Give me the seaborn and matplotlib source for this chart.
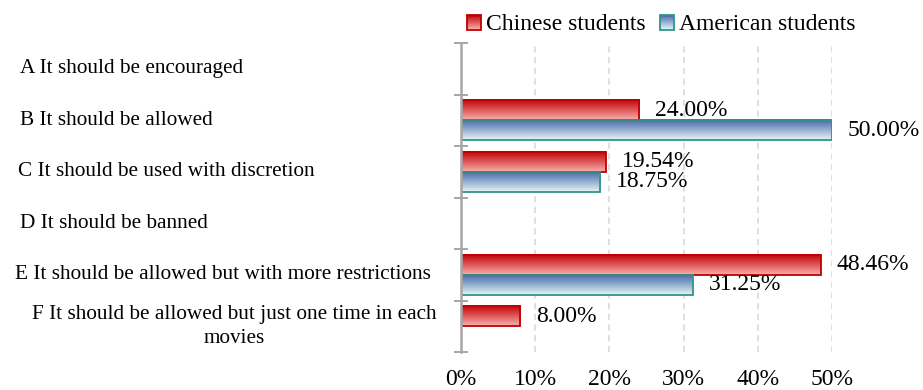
import numpy as np
import pandas as pd
import matplotlib
matplotlib.use("Agg")
import matplotlib.pyplot as plt
import matplotlib.transforms as mtransforms
from matplotlib.patches import Rectangle, Patch
from matplotlib.legend_handler import HandlerBase
from matplotlib.colors import to_rgb
import seaborn as sns

# ---- data -------------------------------------------------------------
categories = [
    "A It should be encouraged",
    "B It should be allowed",
    "C It should be used with discretion",
    "D It should be banned",
    "E It should be allowed but with more restrictions",
    "F It should be allowed but just one time in each\nmovies",
]
groups = ["Chinese students", "American students"]
chinese_pct = [0.0, 24.00, 19.54, 0.0, 48.46, 8.00]
american_pct = [0.0, 50.00, 18.75, 0.0, 31.25, 0.0]
x_ticks = [0, 10, 20, 30, 40, 50]

# ---- style --------------------------------------------------------------
sns.set_style("white")
plt.rcParams["font.family"] = ["Liberation Serif", "DejaVu Serif"]
plt.rcParams["text.color"] = "black"
plt.rcParams["xtick.color"] = "black"
plt.rcParams["ytick.color"] = "black"
plt.rcParams["legend.labelcolor"] = "black"

fills = {
    "Chinese students": ("#C00000", "#F9AFAF", "#C00000"),
    "American students": ("#4466A8", "#E4F6F6", "#2E9488"),
}

df = pd.DataFrame({
    "category": categories * 2,
    "group": [groups[0]] * len(categories) + [groups[1]] * len(categories),
    "value": chinese_pct + american_pct,
})

fig = plt.figure(figsize=(9.23, 3.90), dpi=100)
W, H = 923, 390
ax = fig.add_axes([461 / W, 1 - 352 / H, (832 - 461) / W, (352 - 43) / H])

sns.barplot(
    data=df, y="category", x="value", hue="group", order=categories,
    hue_order=groups, orient="h", width=0.78, saturation=1,
    palette={g: fills[g][0] for g in groups}, legend=False, ax=ax,
)

ax.set_xlim(0, 50)
ax.set_ylim(len(categories) - 0.5, -0.5)


def blend(c1, c2, t):
    a, b = np.array(to_rgb(c1)), np.array(to_rgb(c2))
    return a * (1 - t) + b * t


# vertical gradient fill for every bar, with a crisp outline on top
for container, g in zip(ax.containers, groups):
    top, bottom, edge = fills[g]
    grad = np.array([blend(top, bottom, t) for t in np.linspace(0, 1, 64)])[:, None, :]
    for rect, val in zip(container.patches, df.loc[df.group == g, "value"]):
        x0, y0 = rect.get_x(), rect.get_y()
        w, h = rect.get_width(), rect.get_height()
        rect.set_facecolor("none")
        if w <= 0:
            rect.set_edgecolor("none")
            continue
        ax.imshow(grad, extent=[x0, x0 + w, y0 + h, y0], origin="upper",
                  aspect="auto", zorder=2, interpolation="bilinear")
        rect.set_edgecolor(edge)
        rect.set_linewidth(1.3)
        rect.set_zorder(3)
        ax.annotate(f"{val:.2f}%", xy=(x0 + w, y0 + h / 2), xytext=(16, 0),
                    textcoords="offset pixels", ha="left", va="center",
                    fontsize=17, color="black", zorder=4)

ax.set_xlim(0, 50)
ax.set_ylim(len(categories) - 0.5, -0.5)

# axes decoration
for s in ["top", "right", "bottom"]:
    ax.spines[s].set_visible(False)
ax.spines["left"].set_color("#A6A6A6")
ax.spines["left"].set_linewidth(1.8)
ax.spines["left"].set_zorder(5)

ax.set_xticks(x_ticks)
ax.set_xticklabels([f"{t}%" for t in x_ticks], fontsize=17, color="black")
ax.tick_params(axis="x", length=0, pad=12)
ax.xaxis.grid(True, linestyle=(0, (4, 3)), color="#D6D6D6", linewidth=1.1)
ax.set_axisbelow(True)

ax.set_yticks(range(len(categories)))
ax.set_yticklabels([])
ax.tick_params(axis="y", which="major", left=False, length=0)
ax.set_yticks(np.arange(-0.5, len(categories), 1.0), minor=True)
ax.tick_params(axis="y", which="minor", left=True, direction="inout",
               length=9.5, width=1.4, color="#A6A6A6")
ax.set_xlabel("")
ax.set_ylabel("")

# category labels in the left margin
trans = mtransforms.blended_transform_factory(fig.transFigure, ax.transData)
label_left = [20, 20, 18, 20, 15]
for i, cat in enumerate(categories):
    if "\n" in cat:
        ax.text(234 / W, i, cat, transform=trans, ha="center", va="center",
                multialignment="center", fontsize=15.3, linespacing=1.35,
                color="black")
    else:
        ax.text(label_left[i] / W, i, cat, transform=trans, ha="left",
                va="center", fontsize=15.3, color="black")


# legend with gradient swatches
class GradientHandler(HandlerBase):
    def __init__(self, top, bottom, edge):
        super().__init__()
        self.top, self.bottom, self.edge = top, bottom, edge

    def create_artists(self, legend, orig_handle, xdescent, ydescent,
                       width, height, fontsize, trans):
        n = 16
        arts = []
        for i in range(n):
            c = blend(self.top, self.bottom, i / (n - 1))
            arts.append(Rectangle((-xdescent, -ydescent + height * (1 - (i + 1) / n)),
                                  width, height / n, facecolor=c, edgecolor="none",
                                  transform=trans))
        arts.append(Rectangle((-xdescent, -ydescent), width, height,
                              facecolor="none", edgecolor=self.edge, lw=1.3,
                              transform=trans))
        return arts


handles = [Patch(label=g) for g in groups]
fig.legend(
    handles=handles, labels=groups, loc="center",
    bbox_to_anchor=(661 / W, 1 - 25 / H), ncol=2, frameon=False,
    fontsize=17, handlelength=0.6, handleheight=0.6, handletextpad=0.2,
    columnspacing=0.6, labelcolor="black",
    handler_map={h: GradientHandler(*fills[g]) for h, g in zip(handles, groups)},
)

fig.savefig("out.png", dpi=100)
